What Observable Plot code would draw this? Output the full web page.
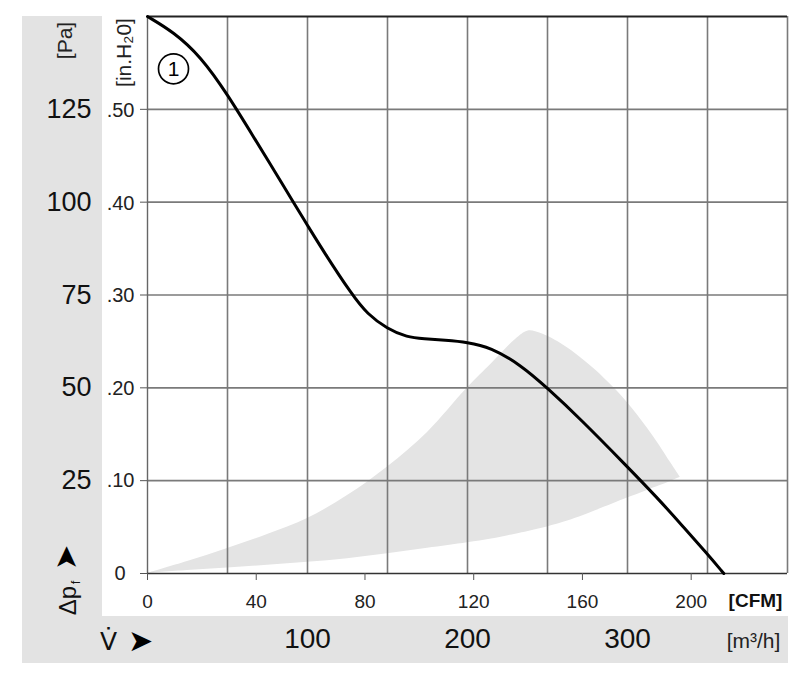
<!DOCTYPE html>
<html>
<head>
<meta charset="utf-8">
<script src="https://cdn.jsdelivr.net/npm/d3@7"></script>
<script src="https://cdn.jsdelivr.net/npm/@observablehq/plot@0.6"></script>
<style>
  body { margin: 0; background: white; }
  #chart svg { display: block; background: white; }
</style>
</head>
<body>
<div id="chart"></div>
<script>
// ---- Data (x in m³/h, y in Pa) ----
const curveX = [0, 16.4, 33.1, 49.8, 68.5, 79, 91.5, 99.8, 110.2, 127.9, 137.3, 149.8, 162.3, 172.7, 186, 199.8, 214.4, 233.1, 249.8, 270.6, 299.8, 318.6, 334, 349.8, 360.2];
const curveY = [150, 145.8, 139.3, 129.2, 116, 108.7, 99.7, 93.9, 86.6, 75, 69.9, 65.9, 63.6, 63.2, 62.8, 62.3, 60.9, 56.2, 50.0, 41.6, 28.8, 20.4, 13, 5.3, 0];

// operating region (shaded)
const regionX  = [0, 25, 50, 75, 100, 125, 150, 175, 200, 215, 230, 238, 246, 260, 270, 280, 291, 300, 312, 320, 327, 333];
const regionLo = [0, 0.8, 1.5, 2.2, 3.0, 4.0, 5.3, 6.8, 8.3, 9.3, 10.6, 11.3, 12.1, 13.8, 15.2, 16.9, 18.8, 20.3, 22.3, 23.6, 24.8, 25.9];
const regionHi = [0, 3.2, 6.7, 10.5, 14.8, 21, 28.7, 38, 50, 56.5, 63, 65.3, 64.6, 61.5, 58.4, 54.8, 50.2, 46, 39.4, 34.5, 29.8, 25.9];

const curveLabel = [{x: 16.25, y: 135.9, text: "1"}];

// ticks
const paTicks = [0, 25, 50, 75, 100, 125];
const inH2OTicks = [0.10, 0.20, 0.30, 0.40, 0.50];
const inH2OLabels = [".10", ".20", ".30", ".40", ".50"];
const cfmTicks = [0, 40, 80, 120, 160, 200];
const m3hTicks = [100, 200, 300];
const gridX = [50, 100, 150, 200, 250, 300, 350];
const gridY = [25, 50, 75, 100, 125];

const CFM_TO_M3H = 1.699;
const INH2O_TO_PA = 249.09;

const curve = curveX.map((x, i) => ({x, y: curveY[i]}));
const region = regionX.map((x, i) => ({x, lo: regionLo[i], hi: regionHi[i]}));

const W = 800, H = 685;
const mL = 147, mT = 16, mR = 13, mB = 112;
const font = "'Liberation Sans', Arial, Helvetica, sans-serif";
const gridColor = "#7a7a7a";

// helper for title positions relative to frame top-left (147,16)
const at = (X, Y) => ({frameAnchor: "top-left", dx: X - mL, dy: Y - mT, textAnchor: "middle", lineAnchor: "middle"});

const chart = Plot.plot({
  width: W,
  height: H,
  marginLeft: mL,
  marginTop: mT,
  marginRight: mR,
  marginBottom: mB,
  style: {fontFamily: font, color: "#111", background: "transparent", overflow: "visible"},
  x: {domain: [0, 400], axis: null},
  y: {domain: [0, 150], axis: null},
  marks: [
    Plot.areaY(region, {x: "x", y1: "lo", y2: "hi", fill: "#e4e4e4", curve: "catmull-rom"}),
    Plot.ruleX(gridX, {stroke: gridColor, strokeWidth: 1.6}),
    Plot.ruleY(gridY, {stroke: gridColor, strokeWidth: 1.6}),
    Plot.ruleX([0], {stroke: "#666", strokeWidth: 1.4}),
    Plot.ruleX([400], {stroke: gridColor, strokeWidth: 1.6}),
    Plot.ruleY([150], {stroke: "#222", strokeWidth: 1.8}),
    Plot.ruleY([0], {stroke: "#333", strokeWidth: 1.4}),
    // Pa axis
    Plot.axisY(paTicks, {anchor: "left", label: null, tickSize: 7, tickPadding: 49, stroke: "#555",
      tickFormat: d => d === 0 ? "" : String(d), fontSize: 27, color: "#111"}),
    // in.H2O axis
    Plot.axisY(inH2OTicks.map(d => d * INH2O_TO_PA), {anchor: "left", label: null, tickSize: 0, tickPadding: 13,
      tickFormat: (d, i) => inH2OLabels[i], fontSize: 20, color: "#222"}),
    Plot.axisY([0], {anchor: "left", label: null, tickSize: 0, tickPadding: 22, tickFormat: () => "0", fontSize: 20, color: "#222"}),
    // CFM axis
    Plot.axisX(cfmTicks.map(d => d * CFM_TO_M3H), {anchor: "bottom", label: null, tickSize: 7, tickPadding: 14, stroke: "#555",
      tickFormat: (d, i) => String(cfmTicks[i]), fontSize: 19, color: "#222"}),
    // m3/h axis
    Plot.axisX(m3hTicks, {anchor: "bottom", label: null, tickSize: 0, tickPadding: 55,
      tickFormat: d => String(d), fontSize: 28, color: "#111"}),
    // curve
    Plot.line(curve, {x: "x", y: "y", stroke: "#000", strokeWidth: 3, curve: "basis"}),
    Plot.dot(curveLabel, {x: "x", y: "y", r: 15, stroke: "#000", strokeWidth: 1.7, fill: "white"}),
    Plot.text(curveLabel, {x: "x", y: "y", text: "text", fontSize: 21, fill: "#000"}),
    // titles
    Plot.text(["[Pa]"], {...at(65, 40), rotate: -90, fontSize: 21, fill: "#222"}),
    Plot.text(["[in.H₂0]"], {...at(124, 52), rotate: -90, fontSize: 21, fill: "#222"}),
    Plot.text(["Δp"], {...at(68, 600), rotate: -90, fontSize: 24, fill: "#111"}),
    Plot.text(["f"], {...at(75, 582), rotate: -90, fontSize: 13, fill: "#111"}),
    Plot.text(["➤"], {...at(66, 557), rotate: -90, fontSize: 30, fill: "#000", fontFamily: "DejaVu Sans"}),
    Plot.text(["V̇"], {...at(108, 641), fontSize: 25, fill: "#111", fontFamily: "DejaVu Sans"}),
    Plot.text(["➤"], {...at(140, 641), fontSize: 30, fill: "#000", fontFamily: "DejaVu Sans"}),
    Plot.text(["[CFM]"], {...at(755, 600), fontSize: 19, fontWeight: "bold", fill: "#111"}),
    Plot.text(["[m³/h]"], {...at(753, 641), fontSize: 21, fill: "#222"})
  ]
});

// grey side / bottom panels behind everything
const svg = d3.select(chart);
svg.insert("rect", ":first-child").attr("x", 22).attr("y", 616).attr("width", 766).attr("height", 47).attr("fill", "#e3e3e3");
svg.insert("rect", ":first-child").attr("x", 22).attr("y", 16).attr("width", 80).attr("height", 600).attr("fill", "#e3e3e3");
svg.insert("rect", ":first-child").attr("x", 0).attr("y", 0).attr("width", W).attr("height", H).attr("fill", "white");

document.getElementById("chart").append(chart);
</script>
</body>
</html>
